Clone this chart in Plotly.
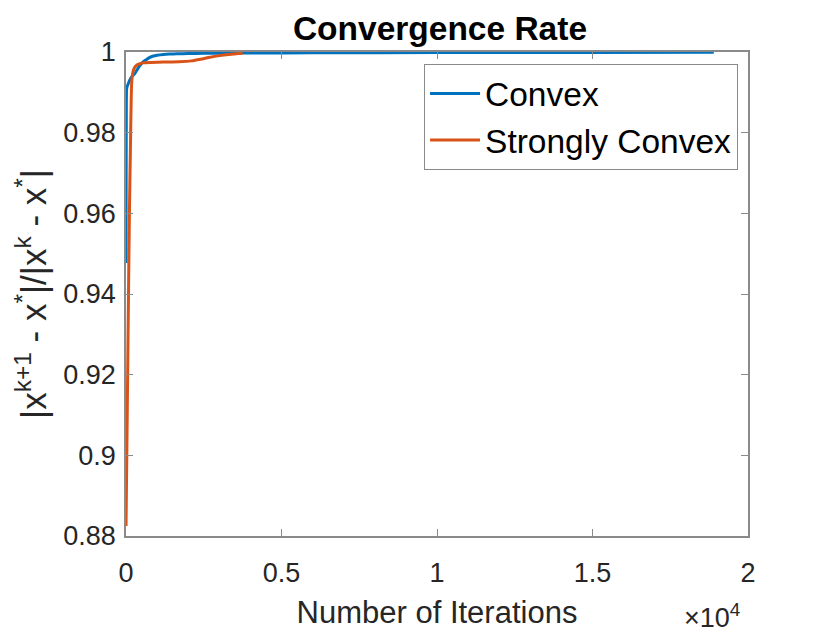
import plotly.graph_objects as go

# Convex series (iteration, ratio)
convex_iter = [1, 3, 6, 10, 20, 40, 75, 120, 180, 240, 290, 350, 420, 500, 560, 650, 750,
               880, 1000, 1200, 1400, 1630, 2000, 2500, 3000, 4000, 6000, 10000, 15000, 18900]
convex_val = [0.9477, 0.962, 0.975, 0.985, 0.9908, 0.9915, 0.9922, 0.9930, 0.9938, 0.9943,
              0.9947, 0.9955, 0.9964, 0.9971, 0.9976, 0.9981, 0.9986, 0.9990, 0.9992,
              0.9994, 0.9995, 0.99955, 0.9996, 0.99968, 0.99972, 0.99976, 0.9998, 0.99985,
              0.9999, 0.99995]

# Strongly convex series
strong_iter = [1, 40, 80, 110, 140, 160, 180, 210, 240, 290, 350, 450, 560, 800, 1200,
               1700, 2100, 2400, 2700, 3000, 3300, 3600, 3750]
strong_val = [0.8825, 0.91, 0.94, 0.96, 0.975, 0.985, 0.992, 0.9945, 0.9955, 0.9963,
              0.9968, 0.9971, 0.9973, 0.9974, 0.9975, 0.9976, 0.9978, 0.9982, 0.9987,
              0.9991, 0.9994, 0.9996, 0.9997]

x_ticks = [0, 5000, 10000, 15000, 20000]
x_tick_text = ["0", "0.5", "1", "1.5", "2"]
y_ticks = [0.88, 0.90, 0.92, 0.94, 0.96, 0.98, 1.0]
y_tick_text = ["0.88", "0.9", "0.92", "0.94", "0.96", "0.98", "1"]

FONT = "Liberation Sans, Arial, Helvetica, sans-serif"
AX = "#8a8a8a"
TXT = "#262626"

fig = go.Figure()
fig.add_trace(go.Scatter(x=convex_iter, y=convex_val, mode="lines", name="Convex",
                         line=dict(color="#0072BD", width=3, shape="spline", smoothing=0.6)))
fig.add_trace(go.Scatter(x=strong_iter, y=strong_val, mode="lines", name="Strongly Convex",
                         line=dict(color="#D95319", width=3, shape="spline", smoothing=0.6)))

axis_common = dict(showline=True, linecolor=AX, linewidth=1.5, mirror="ticks",
                   ticks="inside", ticklen=7, tickcolor=AX, tickwidth=1,
                   showgrid=False, zeroline=False,
                   tickfont=dict(family=FONT, size=27, color=TXT))

fig.update_layout(
    width=822, height=630,
    margin=dict(l=118, r=82, t=44, b=102),
    paper_bgcolor="white", plot_bgcolor="white",
    title=dict(text="<b>Convergence Rate</b>", x=0.5255, xanchor="center",
               y=0.968, yanchor="middle",
               font=dict(family=FONT, size=33.5, color="black")),
    xaxis=dict(range=[0, 20000], tickvals=x_ticks, ticktext=x_tick_text,
               ticklabelstandoff=12,
               title=dict(text="Number of Iterations", standoff=14,
                          font=dict(family=FONT, size=31, color=TXT)),
               **axis_common),
    yaxis=dict(range=[0.88, 1.0], tickvals=y_ticks, ticktext=y_tick_text,
               ticklabelstandoff=3,
               title=dict(text="|x<sup>k+1</sup> - x<sup>*</sup>|/|x<sup>k</sup> - x<sup>*</sup>|",
                          standoff=6,
                          font=dict(family=FONT, size=35, color=TXT)),
               **axis_common),
    legend=dict(x=0.984, xanchor="right", y=0.975, yanchor="top",
                bgcolor="white", bordercolor=AX, borderwidth=1,
                font=dict(family=FONT, size=33.5, color="black"),
                itemwidth=50, tracegroupgap=0),
    showlegend=True,
)

fig.add_annotation(text="\u00d710<sup>4</sup>", xref="paper", yref="paper",
                   x=0.942, y=-0.127, xanchor="center", yanchor="top", showarrow=False,
                   font=dict(family=FONT, size=27, color=TXT))

fig.write_html("out.html")
